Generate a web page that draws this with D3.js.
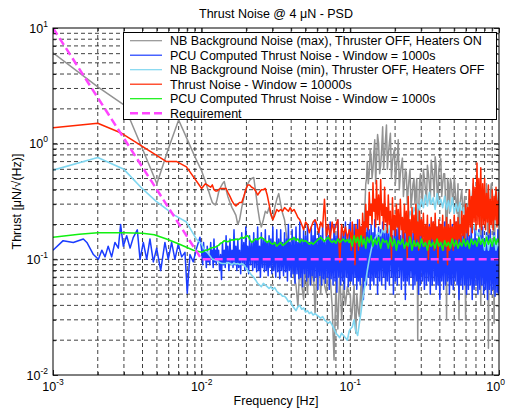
<!DOCTYPE html>
<html><head><meta charset="utf-8">
<script src="https://cdn.jsdelivr.net/npm/d3@7"></script>
<style>
body{margin:0;background:#fff;}
text{font-family:"Liberation Sans",Arial,Helvetica,sans-serif;fill:#000;}
</style>
</head><body>
<svg id="chart" width="506" height="411"></svg>
<script>
// ---------------- DATA ----------------
const title = "Thrust Noise @ 4 \u03bcN - PSD";
const xLabel = "Frequency [Hz]";
const yLabel = "Thrust [\u03bcN/\u221a(Hz)]";
const seriesNames = [
  "NB Background Noise (max), Thruster OFF, Heaters ON",
  "PCU Computed Thrust Noise - Window = 1000s",
  "NB Background Noise (min), Thruster OFF, Heaters OFF",
  "Thrust Noise - Window = 10000s",
  "PCU Computed Thrust Noise - Window = 1000s",
  "Requirement"
];
const xTickExp = [-3, -2, -1, 0];
const yTickExp = [-2, -1, 0, 1];

// shared frequency grids (Hz)
const fMid = [0.0100,0.0103,0.0106,0.0109,0.0112,0.0115,0.0118,0.0121,0.0124,0.0127,
  0.0130,0.0134,0.0138,0.0142,0.0146,0.0150,0.0155,0.0160,0.0165,0.0170,
  0.0175,0.0180,0.0186,0.0192,0.0198,0.0204,0.0210,0.0217,0.0224,0.0231,
  0.0238,0.0245,0.0252,0.0260,0.0268,0.0276,0.0284,0.0292,0.0301,0.0310,
  0.0320,0.0330,0.0340,0.0350,0.0361,0.0372,0.0383,0.0394,0.0406,0.0418,
  0.0431,0.0444,0.0457,0.0471,0.0485,0.0500,0.0515,0.0530,0.0546,0.0562,
  0.0579,0.0596,0.0614,0.0632,0.0651,0.0670,0.0690,0.0711,0.0732,0.0754,
  0.0777,0.0800,0.0824,0.0849,0.0874,0.0900,0.0927,0.0955,0.0983];
const fMidB = [0.01015,0.01045,0.01075,0.01105,0.01135,0.01165,0.01195,0.01225,0.01255,0.01285,
  0.0132,0.0136,0.0140,0.0144,0.0148,0.01525,0.01575,0.01625,0.01675,0.01725,
  0.01775,0.0183,0.0189,0.0195,0.0201,0.0207,0.02135,0.02205,0.02275,0.02345,
  0.02415,0.02485,0.0256,0.0264,0.0272,0.0280,0.0288,0.02965,0.03055,0.0315,
  0.0325,0.0335,0.0345,0.03555,0.03665,0.03775,0.03885,0.0400,0.0412,0.04245,
  0.04375,0.04505,0.0464,0.0478,0.04925,0.05075,0.05225,0.0538,0.0554,0.05705,
  0.05875,0.0605,0.0623,0.06415,0.06605,0.0680,0.07005,0.07215,0.0743,0.07655,
  0.07885,0.0812,0.08365,0.08615,0.0887,0.09135,0.0941,0.0969,0.09915];
const fHi = [0.100,0.103,0.106,0.109,0.112,0.115,0.118,0.121,0.124,0.127,
  0.130,0.134,0.138,0.142,0.146,0.150,0.155,0.160,0.165,0.170,
  0.175,0.180,0.186,0.192,0.198,0.204,0.210,0.217,0.224,0.231,
  0.238,0.245,0.252,0.260,0.268,0.276,0.284,0.292,0.301,0.310,
  0.320,0.330,0.340,0.350,0.361,0.372,0.383,0.394,0.406,0.418,
  0.431,0.444,0.457,0.471,0.485,0.500,0.515,0.530,0.546,0.562,
  0.579,0.596,0.614,0.632,0.651,0.670,0.690,0.711,0.732,0.754,
  0.777,0.800,0.824,0.849,0.874,0.900,0.927,0.955,0.983,1.000];
const fHiB = [0.1015,0.1045,0.1075,0.1105,0.1135,0.1165,0.1195,0.1225,0.1255,0.1285,
  0.132,0.136,0.140,0.144,0.148,0.1525,0.1575,0.1625,0.1675,0.1725,
  0.1775,0.183,0.189,0.195,0.201,0.207,0.2135,0.2205,0.2275,0.2345,
  0.2415,0.2485,0.256,0.264,0.272,0.280,0.288,0.2965,0.3055,0.315,
  0.325,0.335,0.345,0.3555,0.3665,0.3775,0.3885,0.400,0.412,0.4245,
  0.4375,0.4505,0.464,0.478,0.4925,0.5075,0.5225,0.538,0.554,0.5705,
  0.5875,0.605,0.623,0.6415,0.6605,0.680,0.7005,0.7215,0.743,0.7655,
  0.7885,0.812,0.8365,0.8615,0.887,0.9135,0.941,0.969,0.9915];

// NB Background Noise (max) - grey
const greyLow = [[0.001,6.1],[0.002,3.1],[0.003,2.16],[0.004,0.9],[0.005,0.45],[0.006,0.92],[0.007,1.6],[0.008,1.09],[0.009,0.77]];
const greyMid = [0.58,0.52,0.47,0.42,0.38,0.34,0.31,0.30,0.295,0.33,
  0.38,0.42,0.45,0.47,0.40,0.35,0.31,0.28,0.26,0.24,
  0.20,0.22,0.28,0.34,0.40,0.45,0.48,0.50,0.51,0.38,
  0.28,0.22,0.19,0.22,0.26,0.25,0.28,0.24,0.22,0.28,
  0.33,0.37,0.30,0.25,0.22,0.16,0.13,0.10,0.085,0.07,
  0.06,0.039,0.09,0.06,0.045,0.10,0.05,0.12,0.06,0.09,
  0.034,0.08,0.12,0.05,0.10,0.06,0.051,0.11,0.07,0.04,
  0.0135,0.06,0.025,0.08,0.03,0.06,0.04,0.058,0.05];
const greyHi = [0.05,0.035,0.06,0.023,0.04,0.032,0.06,0.10,0.20,0.45,
  0.70,0.55,0.77,0.60,1.08,0.70,1.00,0.65,1.40,0.80,
  1.45,0.80,1.23,0.70,0.90,0.60,1.08,0.55,0.75,0.45,
  0.56,0.40,0.60,0.35,0.50,0.40,0.02,0.46,0.35,0.60,
  0.40,0.65,0.45,0.72,0.50,0.77,0.40,0.60,0.74,0.45,
  0.55,0.03,0.45,0.50,0.35,0.52,0.30,0.45,0.30,0.40,
  0.28,0.03,0.30,0.40,0.30,0.45,0.35,0.40,0.30,0.04,
  0.40,0.30,0.45,0.017,0.35,0.40,0.028,0.38,0.30,0.35];
const greyHiB = [0.03,0.045,0.028,0.05,0.035,0.045,0.04,0.07,0.30,0.50,
  0.45,0.90,0.50,0.85,0.45,1.20,0.55,0.90,0.60,1.10,
  0.60,1.00,0.50,0.80,0.45,0.75,0.40,0.65,0.35,0.60,
  0.30,0.50,0.28,0.45,0.30,0.50,0.25,0.55,0.30,0.50,
  0.30,0.55,0.30,0.60,0.35,0.65,0.30,0.70,0.35,0.55,
  0.30,0.50,0.25,0.45,0.30,0.40,0.25,0.03,0.35,0.25,
  0.35,0.25,0.30,0.20,0.35,0.25,0.30,0.28,0.35,0.25,
  0.30,0.25,0.35,0.30,0.45,0.28,0.35,0.30,0.40];

// PCU Computed Thrust Noise (raw) - blue
const blueLow = [[0.001,0.12],[0.00117,0.145],[0.00137,0.14],[0.0016,0.15],[0.00169,0.14],
  [0.00187,0.11],[0.00202,0.10],[0.00213,0.12],[0.00224,0.105],[0.00235,0.13],
  [0.00248,0.105],[0.00261,0.14],[0.00275,0.125],[0.00285,0.20],[0.00297,0.13],
  [0.00313,0.16],[0.0033,0.125],[0.00347,0.155],[0.00369,0.18],[0.00385,0.10],
  [0.00405,0.14],[0.00427,0.10],[0.00449,0.15],[0.00473,0.095],[0.00498,0.125],
  [0.0053,0.08],[0.00566,0.14],[0.00596,0.10],[0.00628,0.14],[0.00661,0.10],
  [0.00696,0.135],[0.00734,0.105],[0.00772,0.115],[0.0080,0.051],[0.00834,0.11],
  [0.00878,0.095],[0.00925,0.125],[0.00974,0.155]];
const blueMid = [0.12,0.14,0.12,0.13,0.11,0.14,0.12,0.15,0.12,0.13,
  0.12,0.11,0.14,0.12,0.16,0.13,0.15,0.12,0.18,0.13,
  0.15,0.12,0.17,0.14,0.19,0.13,0.16,0.14,0.17,0.15,
  0.19,0.13,0.17,0.15,0.18,0.14,0.16,0.15,0.19,0.14,
  0.18,0.15,0.18,0.14,0.17,0.15,0.20,0.14,0.18,0.15,
  0.19,0.14,0.21,0.15,0.18,0.16,0.20,0.14,0.19,0.16,
  0.22,0.15,0.18,0.16,0.20,0.14,0.19,0.16,0.21,0.15,
  0.20,0.16,0.22,0.15,0.19,0.17,0.21,0.15,0.20];
const blueMidB = [0.09,0.10,0.085,0.095,0.09,0.10,0.085,0.095,0.09,0.10,
  0.08,0.067,0.09,0.085,0.095,0.08,0.09,0.085,0.09,0.08,
  0.085,0.075,0.09,0.08,0.085,0.075,0.09,0.08,0.085,0.078,
  0.08,0.07,0.085,0.078,0.08,0.072,0.085,0.075,0.08,0.07,
  0.078,0.068,0.08,0.072,0.078,0.065,0.08,0.07,0.075,0.062,
  0.075,0.068,0.07,0.058,0.075,0.065,0.07,0.06,0.072,0.065,
  0.07,0.055,0.072,0.06,0.068,0.062,0.07,0.055,0.068,0.06,
  0.065,0.052,0.07,0.06,0.065,0.055,0.07,0.058,0.065];
const blueHi = [0.21,0.17,0.20,0.18,0.22,0.16,0.19,0.18,0.21,0.17,
  0.23,0.18,0.20,0.17,0.22,0.16,0.19,0.18,0.21,0.17,
  0.20,0.17,0.22,0.16,0.19,0.18,0.21,0.16,0.20,0.17,
  0.22,0.16,0.19,0.17,0.21,0.16,0.20,0.17,0.21,0.15,
  0.19,0.16,0.20,0.17,0.21,0.15,0.19,0.16,0.20,0.15,
  0.21,0.16,0.19,0.15,0.20,0.16,0.21,0.15,0.19,0.16,
  0.20,0.15,0.18,0.16,0.20,0.15,0.19,0.15,0.18,0.16,
  0.19,0.15,0.17,0.16,0.18,0.14,0.17,0.15,0.18,0.15];
const blueHiB = [0.065,0.06,0.07,0.055,0.065,0.06,0.07,0.045,0.065,0.06,
  0.07,0.055,0.065,0.06,0.07,0.05,0.065,0.06,0.07,0.055,
  0.065,0.06,0.07,0.05,0.065,0.06,0.07,0.055,0.065,0.045,
  0.065,0.06,0.07,0.055,0.06,0.065,0.05,0.06,0.065,0.055,
  0.06,0.065,0.05,0.06,0.065,0.055,0.06,0.045,0.065,0.055,
  0.06,0.065,0.05,0.06,0.055,0.065,0.06,0.045,0.06,0.055,
  0.06,0.05,0.055,0.06,0.045,0.055,0.06,0.05,0.055,0.06,
  0.05,0.055,0.045,0.055,0.05,0.055,0.048,0.052,0.05];

// NB Background Noise (min) - cyan
const cyanLow = [[0.001,0.59],[0.002,0.76],[0.003,0.60],[0.0039,0.42],[0.0049,0.32],[0.0066,0.24],[0.0079,0.21],[0.0092,0.15]];
const cyanMid = [0.135,0.125,0.118,0.115,0.11,0.105,0.10,0.10,0.098,0.097,
  0.095,0.093,0.092,0.092,0.092,0.094,0.092,0.09,0.093,0.091,
  0.092,0.09,0.092,0.09,0.085,0.08,0.077,0.073,0.07,0.066,
  0.062,0.06,0.058,0.062,0.06,0.058,0.056,0.058,0.055,0.057,
  0.053,0.051,0.05,0.048,0.048,0.046,0.043,0.044,0.04,0.038,
  0.036,0.039,0.04,0.037,0.038,0.035,0.036,0.034,0.035,0.033,
  0.034,0.033,0.032,0.031,0.032,0.03,0.029,0.028,0.029,0.027,
  0.025,0.023,0.022,0.021,0.023,0.022,0.021,0.02,0.024];
const cyanHi = [0.025,0.026,0.03,0.024,0.022,0.028,0.035,0.045,0.055,0.065,
  0.08,0.10,0.12,0.14,0.15,0.16,0.17,0.16,0.18,0.17,
  0.19,0.17,0.20,0.18,0.21,0.19,0.22,0.20,0.23,0.21,
  0.24,0.22,0.26,0.23,0.28,0.25,0.30,0.27,0.33,0.28,
  0.36,0.29,0.38,0.30,0.34,0.27,0.37,0.30,0.33,0.28,
  0.35,0.27,0.32,0.26,0.34,0.25,0.30,0.26,0.31,0.24,
  0.28,0.23,0.25,0.21,0.22,0.18,0.20,0.16,0.17,0.14,
  0.15,0.12,0.16,0.12,0.15,0.13,0.16,0.12,0.14,0.13];

// Thrust Noise - Window = 10000s - red
const redLow = [[0.001,1.37],[0.002,1.5],[0.0029,1.23],[0.0058,0.70],[0.0068,0.70],[0.0079,0.63]];
const redMid = [0.41,0.43,0.45,0.44,0.43,0.42,0.44,0.40,0.39,0.39,
  0.40,0.41,0.41,0.41,0.41,0.38,0.35,0.32,0.30,0.29,
  0.30,0.31,0.31,0.35,0.40,0.44,0.44,0.42,0.41,0.39,
  0.36,0.38,0.40,0.40,0.41,0.36,0.30,0.25,0.22,0.24,
  0.27,0.26,0.27,0.26,0.28,0.27,0.26,0.28,0.26,0.27,
  0.25,0.23,0.22,0.20,0.18,0.21,0.20,0.17,0.19,0.21,
  0.22,0.20,0.17,0.21,0.19,0.33,0.16,0.20,0.15,0.21,
  0.17,0.20,0.22,0.095,0.20,0.16,0.19,0.15,0.18];
const redHi = [0.17,0.21,0.16,0.20,0.18,0.22,0.19,0.25,0.21,0.30,
  0.26,0.38,0.30,0.46,0.33,0.48,0.36,0.49,0.30,0.42,
  0.28,0.36,0.26,0.34,0.24,0.30,0.27,0.33,0.23,0.30,
  0.26,0.35,0.22,0.28,0.24,0.30,0.21,0.26,0.22,0.25,
  0.20,0.24,0.19,0.23,0.21,0.25,0.19,0.22,0.20,0.24,
  0.19,0.23,0.20,0.22,0.19,0.24,0.21,0.23,0.20,0.26,
  0.24,0.30,0.28,0.40,0.35,0.50,0.42,0.68,0.50,0.62,
  0.45,0.50,0.37,0.44,0.33,0.40,0.35,0.42,0.32,0.38];
const redHiB = [0.12,0.15,0.09,0.14,0.12,0.15,0.13,0.16,0.15,0.19,
  0.18,0.24,0.20,0.26,0.19,0.22,0.20,0.24,0.18,0.21,
  0.17,0.20,0.10,0.18,0.16,0.19,0.15,0.18,0.14,0.17,
  0.10,0.16,0.14,0.17,0.13,0.15,0.12,0.16,0.14,0.13,
  0.14,0.10,0.13,0.15,0.12,0.14,0.093,0.13,0.14,0.12,
  0.13,0.09,0.12,0.14,0.12,0.15,0.13,0.15,0.14,0.16,
  0.15,0.17,0.16,0.19,0.17,0.21,0.18,0.20,0.19,0.18,
  0.20,0.18,0.21,0.17,0.20,0.18,0.22,0.19,0.20];

// PCU Computed Thrust Noise (smoothed) - green
const greenLow = [[0.001,0.155],[0.0015,0.165],[0.002,0.17],[0.003,0.17],[0.004,0.168],[0.0048,0.163],[0.0058,0.15],[0.0071,0.135],[0.0088,0.12]];
const greenMid = [0.115,0.117,0.12,0.12,0.122,0.125,0.126,0.127,0.128,0.13,
  0.132,0.138,0.14,0.145,0.143,0.142,0.145,0.148,0.146,0.15,
  0.148,0.15,0.155,0.152,0.158,0.16,0.15,0.14,0.145,0.15,
  0.148,0.152,0.155,0.15,0.145,0.14,0.145,0.138,0.135,0.14,
  0.13,0.135,0.14,0.132,0.135,0.14,0.145,0.15,0.148,0.155,
  0.145,0.15,0.14,0.148,0.143,0.145,0.14,0.135,0.14,0.135,
  0.14,0.145,0.15,0.155,0.148,0.143,0.15,0.155,0.145,0.14,
  0.145,0.138,0.15,0.14,0.145,0.15,0.142,0.148,0.14];
const greenHi = [0.15,0.13,0.16,0.14,0.155,0.13,0.16,0.135,0.15,0.125,
  0.155,0.14,0.16,0.13,0.15,0.135,0.155,0.125,0.15,0.14,
  0.145,0.125,0.155,0.13,0.15,0.12,0.145,0.135,0.15,0.125,
  0.14,0.13,0.155,0.12,0.145,0.13,0.14,0.125,0.15,0.13,
  0.14,0.12,0.145,0.13,0.14,0.125,0.15,0.13,0.14,0.12,
  0.145,0.13,0.14,0.125,0.15,0.13,0.145,0.125,0.14,0.13,
  0.15,0.13,0.145,0.125,0.15,0.135,0.145,0.13,0.155,0.135,
  0.15,0.13,0.155,0.135,0.15,0.13,0.155,0.135,0.15,0.14];

// Requirement - magenta dashed
const reqFreq = [0.001, 0.01, 1];
const reqVal = [10, 0.1, 0.1];

// ---------------- BUILD ----------------
function build(low, mid, hi, midB, hiB) {
  let pts = low.concat(fMid.map((f, i) => [f, mid[i]]), fHi.map((f, i) => [f, hi[i]]));
  if (midB) pts = pts.concat(fMidB.map((f, i) => [f, midB[i]]));
  if (hiB) pts = pts.concat(fHiB.map((f, i) => [f, hiB[i]]));
  return pts.sort((a, b) => a[0] - b[0]);
}
const series = [
  {name: seriesNames[0], color: "#929292", width: 1.5, dash: null, data: build(greyLow, greyMid, greyHi, null, greyHiB)},
  {name: seriesNames[1], color: "#1a3cff", width: 1.5, dash: null, data: build(blueLow, blueMid, blueHi, blueMidB, blueHiB)},
  {name: seriesNames[2], color: "#7fd6f0", width: 1.6, dash: null, data: build(cyanLow, cyanMid, cyanHi)},
  {name: seriesNames[3], color: "#ff2600", width: 1.5, dash: null, data: build(redLow, redMid, redHi, null, redHiB)},
  {name: seriesNames[4], color: "#10f010", width: 1.6, dash: null, data: build(greenLow, greenMid, greenHi)},
  {name: seriesNames[5], color: "#ff44ff", width: 2.5, dash: "8,4", data: reqFreq.map((f, i) => [f, reqVal[i]])}
];

const W = 506, H = 411;
const L = 53, R = 499, T = 28, B = 375;
const svg = d3.select("#chart");
svg.append("rect").attr("width", W).attr("height", H).attr("fill", "#fff");

const x = d3.scaleLog().domain([1e-3, 1]).range([L, R]);
const y = d3.scaleLog().domain([1e-2, 10]).range([B, T]);

const xAll = x.ticks();
const yAll = y.ticks();
const xMajor = xTickExp.map(e => Math.pow(10, e));
const yMajor = yTickExp.map(e => Math.pow(10, e));
const isMajor = v => Math.abs(Math.log10(v) - Math.round(Math.log10(v))) < 1e-9;
const xMinor = xAll.filter(v => !isMajor(v));
const yMinor = yAll.filter(v => !isMajor(v));

// grid
const grid = svg.append("g").attr("stroke", "#000").attr("stroke-width", 0.75).attr("stroke-dasharray", "4,3").attr("fill", "none");
xAll.filter(v => x(v) > L + 0.5 && x(v) < R - 0.5).forEach(v => {
  grid.append("line").attr("x1", x(v)).attr("x2", x(v)).attr("y1", T).attr("y2", B);
});
yAll.filter(v => y(v) > T + 0.5 && y(v) < B - 0.5).forEach(v => {
  grid.append("line").attr("x1", L).attr("x2", R).attr("y1", y(v)).attr("y2", y(v));
});

// data lines
svg.append("clipPath").attr("id", "clip").append("rect").attr("x", L).attr("y", T).attr("width", R - L).attr("height", B - T);
const line = d3.line().x(d => x(d[0])).y(d => y(d[1]));
const gLines = svg.append("g").attr("clip-path", "url(#clip)");
series.forEach(s => {
  gLines.append("path").datum(s.data).attr("d", line)
    .attr("fill", "none").attr("stroke", s.color).attr("stroke-width", s.width)
    .attr("stroke-linejoin", "round")
    .attr("stroke-dasharray", s.dash);
});

// axes ticks (inward, all four sides)
function ticks(axisFn, scale, vals, size, transform) {
  const g = svg.append("g").attr("transform", transform)
    .call(axisFn(scale).tickValues(vals).tickSizeInner(-size).tickSizeOuter(0).tickFormat(""));
  g.select(".domain").remove();
  g.selectAll("line").attr("stroke", "#000").attr("stroke-width", 0.8);
}
ticks(d3.axisBottom, x, xMajor, 5, `translate(0,${B})`);
ticks(d3.axisBottom, x, xMinor, 3, `translate(0,${B})`);
ticks(d3.axisTop, x, xMajor, 5, `translate(0,${T})`);
ticks(d3.axisTop, x, xMinor, 3, `translate(0,${T})`);
ticks(d3.axisLeft, y, yMajor, 5, `translate(${L},0)`);
ticks(d3.axisLeft, y, yMinor, 3, `translate(${L},0)`);
ticks(d3.axisRight, y, yMajor, 5, `translate(${R},0)`);
ticks(d3.axisRight, y, yMinor, 3, `translate(${R},0)`);

// frame
svg.append("rect").attr("x", L).attr("y", T).attr("width", R - L).attr("height", B - T)
  .attr("fill", "none").attr("stroke", "#000").attr("stroke-width", 1);

// tick labels
const FS = 12.5, FSe = 8.5;
xTickExp.forEach((e, i) => {
  const last = i === xTickExp.length - 1;
  const t = svg.append("text").attr("x", last ? 505 : x(Math.pow(10, e))).attr("y", 391)
    .attr("text-anchor", last ? "end" : "middle").attr("font-size", FS);
  t.append("tspan").text("10");
  t.append("tspan").attr("dy", -6).attr("font-size", FSe).text(e);
});
yTickExp.forEach(e => {
  const t = svg.append("text").attr("x", 48).attr("y", y(Math.pow(10, e)) + 4.5)
    .attr("text-anchor", "end").attr("font-size", FS);
  t.append("tspan").text("10");
  t.append("tspan").attr("dy", -6).attr("font-size", FSe).text(e);
});

// titles
svg.append("text").attr("x", 276).attr("y", 18).attr("text-anchor", "middle").attr("font-size", FS).text(title);
svg.append("text").attr("x", 276).attr("y", 405).attr("text-anchor", "middle").attr("font-size", FS).text(xLabel);
svg.append("text").attr("transform", `translate(21,${(T + B) / 2}) rotate(-90)`)
  .attr("text-anchor", "middle").attr("font-size", FS).text(yLabel);

// legend
const lg = svg.append("g");
lg.append("rect").attr("x", 123.5).attr("y", 32.5).attr("width", 373).attr("height", 87)
  .attr("fill", "#fff").attr("stroke", "#000").attr("stroke-width", 1);
series.forEach((s, i) => {
  const cy = 40.7 + i * 14.5;
  lg.append("line").attr("x1", 130).attr("x2", 162).attr("y1", cy).attr("y2", cy)
    .attr("stroke", s.color).attr("stroke-width", s.dash ? 2.5 : 1.2).attr("stroke-dasharray", s.dash);
  lg.append("text").attr("x", 170).attr("y", cy + 4.5).attr("font-size", FS).text(s.name);
});
</script>
</body></html>
